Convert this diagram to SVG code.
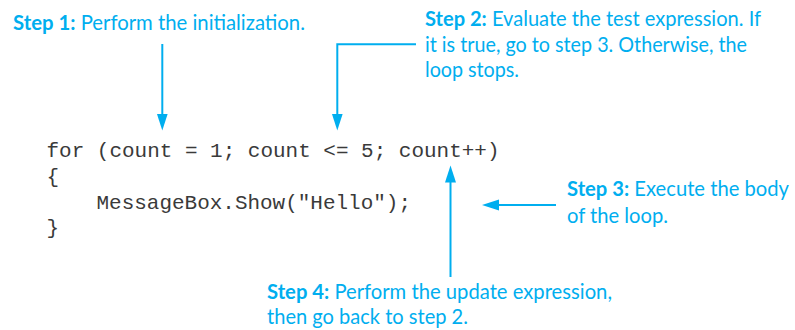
<svg xmlns="http://www.w3.org/2000/svg" width="795" height="330" viewBox="0 0 795 330">
<style>
.lbl{font-family:Lato,"Open Sans","Liberation Sans",sans-serif;font-size:20.5px;fill:#00aeef}
.b{font-weight:bold}
.code{font-family:"Liberation Mono","Courier New",monospace;font-size:21px;fill:#3a3a3a}
.conn{fill:none;stroke:#00aeef;stroke-width:2}
</style>
<defs>
<marker id="ah" markerUnits="userSpaceOnUse" markerWidth="18" markerHeight="12" refX="9" refY="5.5" orient="auto" viewBox="0 0 18 12">
<path d="M0,0 L17,5.5 L0,11 Z" fill="#00aeef"/>
</marker>
</defs>
<rect width="795" height="330" fill="#ffffff"/>
<g id="step1">
<text class="lbl" x="13" y="30" textLength="292" lengthAdjust="spacingAndGlyphs"><tspan class="b">Step 1:</tspan> Perform the initialization.</text>
</g>
<g id="step2">
<text class="lbl" x="425" y="26" textLength="336" lengthAdjust="spacingAndGlyphs"><tspan class="b">Step 2:</tspan> Evaluate the test expression. If</text>
<text class="lbl" x="425" y="51.5" textLength="322" lengthAdjust="spacingAndGlyphs">it is true, go to step 3. Otherwise, the</text>
<text class="lbl" x="425" y="76.5" textLength="94" lengthAdjust="spacingAndGlyphs">loop stops.</text>
</g>
<g id="code">
<text class="code" x="46.5" y="157" textLength="453" lengthAdjust="spacingAndGlyphs">for (count = 1; count &lt;= 5; count++)</text>
<text class="code" x="46.5" y="182.5">{</text>
<text class="code" x="96.5" y="208.5" textLength="314.5" lengthAdjust="spacingAndGlyphs">MessageBox.Show("Hello");</text>
<text class="code" x="46.5" y="234">}</text>
</g>
<g id="step3">
<text class="lbl" x="567" y="196" textLength="222" lengthAdjust="spacingAndGlyphs"><tspan class="b">Step 3:</tspan> Execute the body</text>
<text class="lbl" x="567" y="222.5" textLength="101" lengthAdjust="spacingAndGlyphs">of the loop.</text>
</g>
<g id="step4">
<text class="lbl" x="267" y="298.5" textLength="345" lengthAdjust="spacingAndGlyphs"><tspan class="b">Step 4:</tspan> Perform the update expression,</text>
<text class="lbl" x="267" y="323.5" textLength="201" lengthAdjust="spacingAndGlyphs">then go back to step 2.</text>
</g>
<g id="connectors">
<path class="conn" d="M162.3,44 V122.5" marker-end="url(#ah)"/>
<path class="conn" d="M416,44.3 H337.3 V122.5" marker-end="url(#ah)"/>
<path class="conn" d="M556,205 H490" marker-end="url(#ah)"/>
<path class="conn" d="M450.5,277 V173.5" marker-end="url(#ah)"/>
</g>
</svg>
